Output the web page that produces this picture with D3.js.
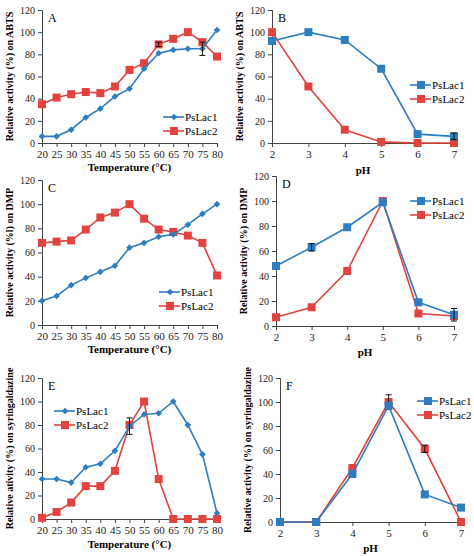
<!DOCTYPE html>
<html><head><meta charset="utf-8">
<script src="https://cdn.jsdelivr.net/npm/d3@7"></script>
<style>body{margin:0;background:#fff}text{font-family:"Liberation Serif",serif}</style>
</head><body><div id="chart"></div>
<script>
var temps = [20,25,30,35,40,45,50,55,60,65,70,75,80];
var phs = [2,3,4,5,6,7];
var yTicks = [0,20,40,60,80,100,120];

// ABTS
var aLac1 = [6,6,12,23,31,42,49,67,81,84,85,85,102];
var aLac2 = [35,41,44,46,45,51,66,72,89,94,100,91,78];
var bLac1 = [92,100,93,67,8,6];
var bLac2 = [100,51,12,1,0,0];
// DMP
var cLac1 = [20,24,33,39,44,49,64,68,73,75,83,92,100];
var cLac2 = [68,69,70,79,89,93,100,88,79,77,74,68,41];
var dLac1 = [48,63,79,99,19,9];
var dLac2 = [7,15,44,100,10,8];
// syringaldazine
var eLac1 = [34,34,31,44,47,58,79,89,90,100,80,55,5];
var eLac2 = [1,6,14,28,28,41,80,100,34,0,0,0,0];
var fLac1 = [0,0,40,97,23,12];
var fLac2 = [0,0,45,100,61,0];

var blue = "#2f7dc0", red = "#e2433f";

var panels = [
  {id:"A", x0:42, x1:217, y0:10, y1:143, xs:temps, l1:aLac1, l2:aLac2, m1:"diamond", yl:"Relative activity (%) on ABTS", xl:"Temperature (°C)", xlY:171, leg:[185,117], err1:{11:6}, err2:{8:2}},
  {id:"B", x0:272, x1:454, y0:10, y1:143, xs:phs, l1:bLac1, l2:bLac2, m1:"square", yl:"Relative activity (%) on ABTS", xl:"pH", xlY:174, leg:[432,85], err1:{5:3}, err2:{}},
  {id:"C", x0:42, x1:217, y0:180, y1:325, xs:temps, l1:cLac1, l2:cLac2, m1:"diamond", yl:"Relative activity (%l) on DMP", xl:"Temperature (°C)", xlY:353, leg:[181,292], err1:{}, err2:{}},
  {id:"D", x0:276, x1:454, y0:176, y1:326, xs:phs, l1:dLac1, l2:dLac2, m1:"square", yl:"Relative activity (%) on DMP", xl:"pH", xlY:356, leg:[432,201], err1:{1:3,5:5}, err2:{}},
  {id:"E", x0:42, x1:217, y0:378, y1:519, xs:temps, l1:eLac1, l2:eLac2, m1:"diamond", yl:"Relative ativity (%) on syringaldazine", xl:"Temperature (°C)", xlY:548, leg:[76,411], err1:{6:7}, err2:{}},
  {id:"F", x0:280, x1:461, y0:378, y1:522, xs:phs, l1:fLac1, l2:fLac2, m1:"square", yl:"Relative activity (%) on syringaldazine", xl:"pH", xlY:552, leg:[439,401], err1:{}, err2:{3:6,4:3}}
];

var svg = d3.select("#chart").append("svg").attr("width",474).attr("height",556);

function marker(g, type, color, x, y) {
  if (type === "diamond") {
    g.append("path").attr("d", d3.symbol(d3.symbolSquare, 22)()).attr("transform",`translate(${x},${y}) rotate(45)`).attr("fill",color);
  } else {
    g.append("rect").attr("x",x-4).attr("y",y-4).attr("width",8).attr("height",8).attr("fill",color);
  }
}

panels.forEach(function(p) {
  var x = d3.scaleLinear().domain(d3.extent(p.xs)).range([p.x0,p.x1]);
  var y = d3.scaleLinear().domain([0,120]).range([p.y1,p.y0]);
  var g = svg.append("g");

  g.append("g").attr("transform",`translate(0,${p.y1})`)
    .call(d3.axisBottom(x).tickValues(p.xs).tickSize(4).tickFormat(d3.format("d")))
    .call(a => a.selectAll("text").attr("font-size",11).attr("fill","#222"));
  g.append("g").attr("transform",`translate(${p.x0},0)`)
    .call(d3.axisLeft(y).tickValues(yTicks).tickSize(4))
    .call(a => a.selectAll("text").attr("font-size",10).attr("fill","#222"));
  g.selectAll(".domain, .tick line").attr("stroke","#444");

  g.append("text").attr("x",p.x0+6).attr("y",p.y0+12).attr("font-size",12).text(p.id);
  g.append("text").attr("x",(p.x0+p.x1)/2).attr("y",p.xlY).attr("text-anchor","middle")
    .attr("font-size",11).attr("font-weight","bold").text(p.xl);
  g.append("text").attr("transform",`translate(${p.x0-29},${(p.y0+p.y1)/2}) rotate(-90)`)
    .attr("text-anchor","middle").attr("font-size",10).attr("font-weight","bold").text(p.yl);

  var line = d3.line().x((d,i)=>x(p.xs[i])).y(d=>y(d));
  [[p.l2,red,"square",p.err2],[p.l1,blue,p.m1,p.err1]].forEach(function(s) {
    g.append("path").datum(s[0]).attr("d",line).attr("fill","none").attr("stroke",s[1]).attr("stroke-width",1.6);
    s[0].forEach(function(v,i){ marker(g,s[2],s[1],x(p.xs[i]),y(v)); });
    Object.keys(s[3]).forEach(function(i) {
      var xx = x(p.xs[i]), v = s[0][i], e = s[3][i];
      g.append("path").attr("d",`M${xx},${y(v+e)}V${y(v-e)}M${xx-3},${y(v+e)}h6M${xx-3},${y(v-e)}h6`)
        .attr("stroke","#111").attr("stroke-width",1);
    });
  });

  // legend
  [["PsLac1",blue,p.m1],["PsLac2",red,"square"]].forEach(function(l,i) {
    var lx = p.leg[0], ly = p.leg[1] + i*14;
    g.append("line").attr("x1",lx-22).attr("x2",lx-1).attr("y1",ly).attr("y2",ly).attr("stroke",l[1]).attr("stroke-width",1.6);
    marker(g,l[2],l[1],lx-11,ly);
    g.append("text").attr("x",lx).attr("y",ly+4).attr("font-size",11).text(l[0]);
  });
});
</script></body></html>
